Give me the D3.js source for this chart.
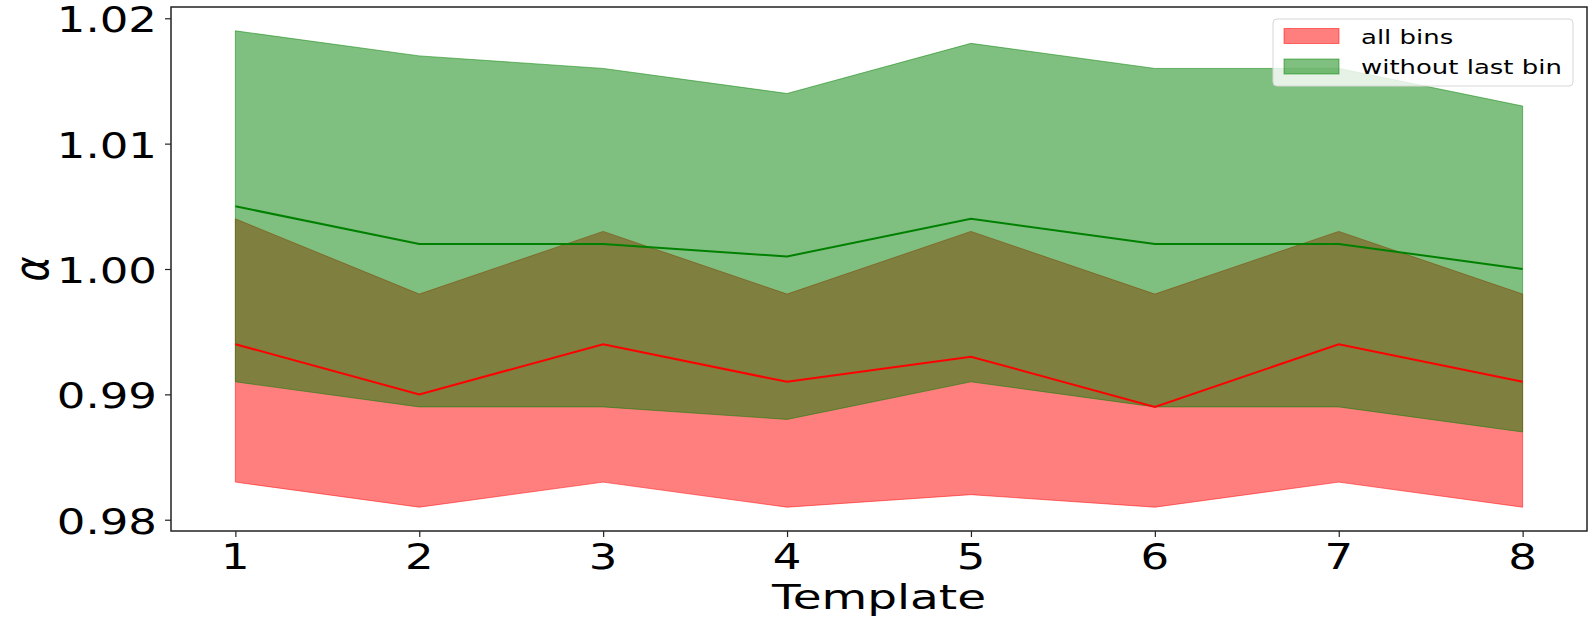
<!DOCTYPE html>
<html>
<head>
<meta charset="utf-8">
<script src="https://cdn.jsdelivr.net/npm/d3@7"></script>
<style>
  body { margin: 0; background: #fff; }
  text { font-family: "DejaVu Sans", sans-serif; fill: #000; }
</style>
</head>
<body>
<script>
"use strict";

// Width and height
let w = 1590;
let h = 620;

// data
let templates = [1, 2, 3, 4, 5, 6, 7, 8];
let allMid = [0.994, 0.990, 0.994, 0.991, 0.993, 0.989, 0.994, 0.991];
let allLow = [0.983, 0.981, 0.983, 0.981, 0.982, 0.981, 0.983, 0.981];
let allHigh = [1.004, 0.998, 1.003, 0.998, 1.003, 0.998, 1.003, 0.998];
let noLastMid = [1.005, 1.002, 1.002, 1.001, 1.004, 1.002, 1.002, 1.000];
let noLastLow = [0.991, 0.989, 0.989, 0.988, 0.991, 0.989, 0.989, 0.987];
let noLastHigh = [1.019, 1.017, 1.016, 1.014, 1.018, 1.016, 1.016, 1.013];
let yTicks = [0.98, 0.99, 1.00, 1.01, 1.02];
let legendLabels = ["all bins", "without last bin"];

// plot box ('top' is taken by window.top, so prefix these)
let boxLeft = 171, boxRight = 1587, boxTop = 7, boxBottom = 531;
let sx = 1.25; // the picture is stretched sideways a bit

let svg = d3.select("body")
    .append("svg")
    .attr("width", w)
    .attr("height", h);

// matplotlib style 5% margins
let x = d3.scaleLinear().domain([0.65, 8.35]).range([boxLeft, boxRight]);
let y = d3.scaleLinear().domain([0.9791, 1.0209]).range([boxBottom, boxTop]);

let series = [
    {color: "#ff0000", mid: allMid, low: allLow, high: allHigh},
    {color: "#008000", mid: noLastMid, low: noLastLow, high: noLastHigh}
];

let area = d3.area()
    .x(d => x(d.t))
    .y0(d => y(d.lo))
    .y1(d => y(d.hi));

let line = d3.line()
    .x(d => x(d.t))
    .y(d => y(d.v));

// bands first
series.forEach(s => {
    let pts = templates.map((t, i) => ({t: t, lo: s.low[i], hi: s.high[i]}));
    svg.append("path")
        .attr("d", area(pts))
        .attr("fill", s.color)
        .attr("fill-opacity", 0.5)
        .attr("stroke", s.color)
        .attr("stroke-opacity", 0.5)
        .attr("stroke-width", 1);
});

// then the middle lines
series.forEach(s => {
    let pts = templates.map((t, i) => ({t: t, v: s.mid[i]}));
    svg.append("path")
        .attr("d", line(pts))
        .attr("fill", "none")
        .attr("stroke", s.color)
        .attr("stroke-width", 2);
});

// axes
svg.append("g")
    .attr("transform", `translate(0,${boxBottom})`)
    .call(d3.axisBottom(x).tickValues(templates).tickSize(6).tickFormat(""));
svg.append("g")
    .attr("transform", `translate(${boxLeft},0)`)
    .call(d3.axisLeft(y).tickValues(yTicks).tickSize(6).tickFormat(""));
svg.selectAll(".domain").remove();
svg.selectAll(".tick line").attr("stroke", "#222").attr("stroke-width", 1.2);

// frame
svg.append("rect")
    .attr("x", boxLeft).attr("y", boxTop)
    .attr("width", boxRight - boxLeft).attr("height", boxBottom - boxTop)
    .attr("fill", "none")
    .attr("stroke", "#222")
    .attr("stroke-width", 1.5);

// text helper, stretched horizontally like the reference
function label(px, py, str, size, anchor, stretch) {
    return svg.append("text")
        .attr("transform", `translate(${px},${py}) scale(${stretch},1)`)
        .attr("text-anchor", anchor)
        .style("font-size", size + "px")
        .text(str);
}

templates.forEach(t => label(x(t), 569, t, 36, "middle", sx));
yTicks.forEach(v => label(157, y(v) + 14, d3.format(".2f")(v), 36, "end", sx));

label((boxLeft + boxRight) / 2, 609, "Template", 34, "middle", 1.38);

svg.append("text")
    .attr("transform", `translate(48,${(boxTop + boxBottom) / 2}) scale(1.25,1) rotate(-90)`)
    .attr("text-anchor", "middle")
    .style("font-size", "38px")
    .style("font-style", "italic")
    .text("α");

// legend
let legend = svg.append("g");
legend.append("rect")
    .attr("x", 1273).attr("y", 19)
    .attr("width", 300).attr("height", 67)
    .attr("rx", 4)
    .attr("fill", "#fff")
    .attr("fill-opacity", 0.8)
    .attr("stroke", "#d6d6d6")
    .attr("stroke-width", 1);

legendLabels.forEach((name, i) => {
    let cy = 36 + i * 30.5;
    legend.append("rect")
        .attr("x", 1284).attr("y", cy - 7.5)
        .attr("width", 55).attr("height", 15)
        .attr("fill", series[i].color)
        .attr("fill-opacity", 0.5)
        .attr("stroke", series[i].color)
        .attr("stroke-opacity", 0.5);
    label(1361, cy + 7.5, name, 19.5, "start", 1.33);
});
</script>
</body>
</html>
